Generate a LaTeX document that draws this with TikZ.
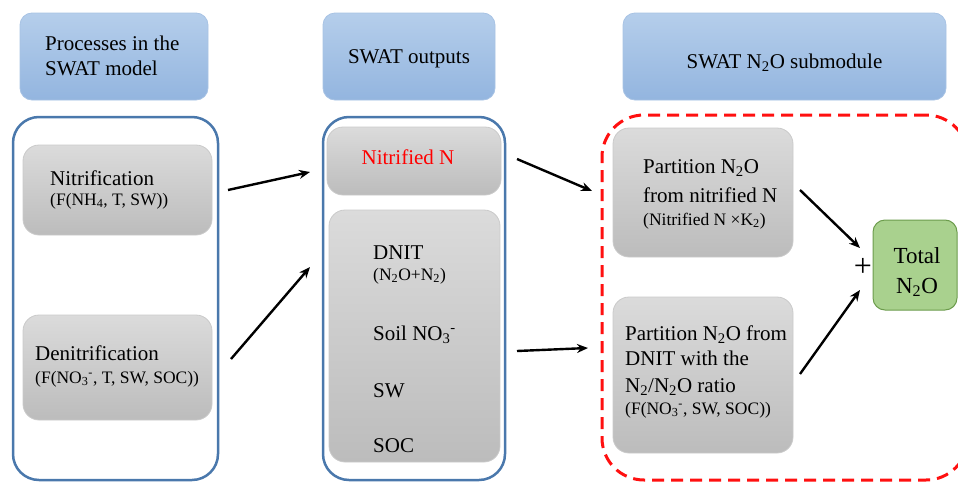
\documentclass[tikz,border=0pt]{standalone}
\usepackage{fontspec}
\setmainfont{Liberation Serif}
\newfontfamily\figserif{Liberation Serif}
\usetikzlibrary{arrows.meta}

\definecolor{hdtop}{HTML}{B5CEEB}
\definecolor{hdbot}{HTML}{93B5DF}
\definecolor{hdline}{HTML}{A8C3E4}
\definecolor{grtop}{HTML}{DBDBDB}
\definecolor{grbot}{HTML}{BCBCBC}
\definecolor{grline}{HTML}{CACACA}
\definecolor{framecol}{HTML}{4A78AC}
\definecolor{totfill}{HTML}{A9D18E}
\definecolor{totline}{HTML}{6C9C4C}
\definecolor{dashred}{HTML}{FF1010}

\tikzset{
  header/.style={rectangle, rounded corners=12pt, top color=hdtop, bottom color=hdbot,
    draw=hdline, line width=0.8pt, inner sep=0pt},
  greybox/.style={rectangle, rounded corners=16pt, top color=grtop, bottom color=grbot,
    draw=grline, line width=0.8pt, inner sep=0pt},
  container/.style={rectangle, draw=framecol, line width=2.5pt, rounded corners=26pt, inner sep=0pt},
  redframe/.style={rectangle, draw=dashred, line width=3pt, dash pattern=on 12pt off 7pt,
    rounded corners=42pt, inner sep=0pt},
  totalbox/.style={rectangle, rounded corners=12pt, fill=totfill, draw=totline,
    line width=1pt, inner sep=0pt},
  big/.style={inner sep=0pt, font=\figserif\fontsize{21}{28}\selectfont},
  small/.style={inner sep=0pt, font=\figserif\fontsize{17.5}{20}\selectfont},
  arr/.style={-{Stealth[length=11pt,width=9pt]}, line width=2.4pt, black},
}

\begin{document}
\begin{tikzpicture}[x=1pt, y=-1pt]
\useasboundingbox (0,0) rectangle (958,482);

% column headers
\node[header, minimum width=188pt, minimum height=87pt] (h1) at (114,56.5) {};
\node[header, minimum width=172pt, minimum height=87pt] (h2) at (409,56.5) {};
\node[header, minimum width=323pt, minimum height=87pt] (h3) at (784.5,56.5) {};
\node[big, anchor=base west] (h1a) at (45,50) {Processes in the};
\node[big, anchor=base west] (h1b) at (45,75) {SWAT model};
\node[big, anchor=base] (h2t) at (409,63) {SWAT outputs};
\node[big, anchor=base] (h3t) at (784.5,68) {SWAT N\textsubscript{2}O submodule};

% left column: processes
\node[container, minimum width=205pt, minimum height=363pt] (left) at (115.5,298.5) {};
\node[greybox, minimum width=189pt, minimum height=90pt] (nitr) at (117.5,190) {};
\node[greybox, minimum width=189pt, minimum height=105pt] (denit) at (117.5,367.5) {};
\node[big, anchor=base west] (nitrt) at (50,185) {Nitrification};
\node[small, anchor=base west] (nitrf) at (50,205) {(F(NH\textsubscript{4}, T, SW))};
\node[big, anchor=base west] (denitt) at (35,360) {Denitrification};
\node[small, anchor=base west] (denitf) at (35,383) {(F(NO\textsubscript{3}\textsuperscript{-}, T, SW, SOC))};

% middle column: outputs
\node[container, minimum width=182pt, minimum height=363pt] (mid) at (414,298.5) {};
\node[greybox, minimum width=174pt, minimum height=68pt] (nitn) at (414,161) {};
\node[big, anchor=base, text=red] (nitnt) at (408,164) {Nitrified N};
\node[greybox, minimum width=171pt, minimum height=252pt] (outs) at (414.5,336) {};
\node[big, anchor=base west] (o1) at (373,259) {DNIT};
\node[small, anchor=base west] (o1b) at (373,280) {(N\textsubscript{2}O+N\textsubscript{2})};
\node[big, anchor=base west] (o2) at (373,340) {Soil NO\textsubscript{3}\textsuperscript{-}};
\node[big, anchor=base west] (o3) at (373,397) {SW};
\node[big, anchor=base west] (o4) at (373,452) {SOC};

% right column: N2O submodule
\begin{scope}
  \clip (0,0) rectangle (958,482);
  \node[redframe, minimum width=366pt, minimum height=365pt] (sub) at (785,297.5) {};
\end{scope}
\node[greybox, minimum width=180pt, minimum height=129pt] (p1) at (703,192.5) {};
\node[greybox, minimum width=180pt, minimum height=156pt] (p2) at (703,375) {};
\node[big, anchor=base west] (p1a) at (643,173) {Partition N\textsubscript{2}O};
\node[big, anchor=base west] (p1b) at (643,202) {from nitrified N};
\node[small, anchor=base west] (p1f) at (643,225) {(Nitrified N ×K\textsubscript{2})};
\node[big, anchor=base west] (p2a) at (625,340) {Partition N\textsubscript{2}O from};
\node[big, anchor=base west] (p2b) at (625,365) {DNIT with the};
\node[big, anchor=base west] (p2c) at (625,392) {N\textsubscript{2}/N\textsubscript{2}O ratio};
\node[small, anchor=base west] (p2f) at (625,414) {(F(NO\textsubscript{3}\textsuperscript{-}, SW, SOC))};
\node[totalbox, minimum width=84pt, minimum height=90pt] (tot) at (915,265) {};
\node[big, anchor=base, font=\figserif\fontsize{23}{30}\selectfont] (tota) at (917,263) {Total};
\node[big, anchor=base, font=\figserif\fontsize{23}{30}\selectfont] (totb) at (917,293) {N\textsubscript{2}O};
\node[inner sep=0pt, font=\figserif\fontsize{32}{32}\selectfont] (plus) at (863,267) {+};

% connectors
\coordinate (a1s) at (228,190);
\coordinate (a1e) at (310,172);
\coordinate (a2s) at (231,359);
\coordinate (a2e) at (310,267);
\coordinate (a3s) at (517,159);
\coordinate (a3e) at (592,191);
\coordinate (a4s) at (517,351);
\coordinate (a4e) at (588,348);
\coordinate (a5s) at (800,190);
\coordinate (a5e) at (860,248);
\coordinate (a6s) at (800,374);
\coordinate (a6e) at (860,290);
\draw[arr] (a1s) -- (a1e);
\draw[arr] (a2s) -- (a2e);
\draw[arr] (a3s) -- (a3e);
\draw[arr] (a4s) -- (a4e);
\draw[arr] (a5s) -- (a5e);
\draw[arr] (a6s) -- (a6e);
\end{tikzpicture}
\end{document}
